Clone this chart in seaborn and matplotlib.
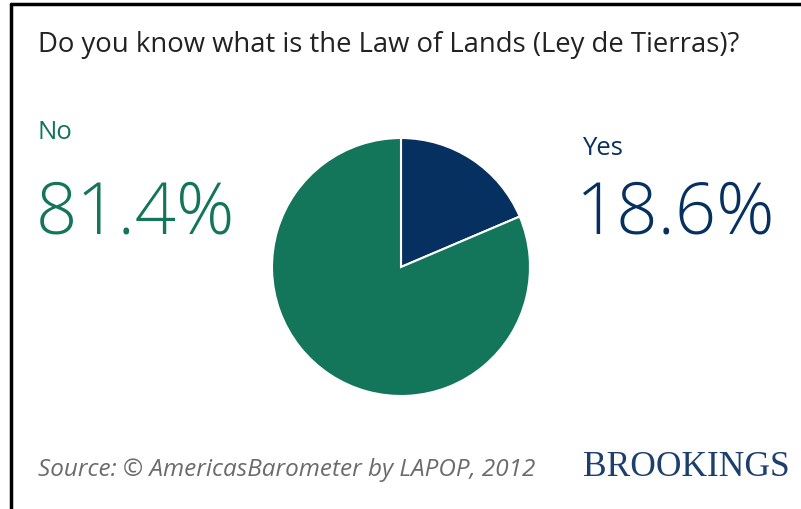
import matplotlib
matplotlib.use("Agg")
import matplotlib.pyplot as plt
import seaborn as sns
from matplotlib.lines import Line2D

categories = ["Yes", "No"]
values = [18.6, 81.4]
colors = ["#06305f", "#137559"]

sns.set_theme(style="white")
plt.rcParams['font.family'] = ['Open Sans', 'DejaVu Sans']

W, H = 801, 510
fig = plt.figure(figsize=(W / 100, H / 100), dpi=100)
fig.patch.set_facecolor("white")

cx, cy, r = 401, 268, 129
ax = fig.add_axes([(cx - r) / W, (H - cy - r) / H, 2 * r / W, 2 * r / H])
ax.pie(values, colors=colors, startangle=90, counterclock=False,
       wedgeprops=dict(edgecolor="white", linewidth=1.5))
ax.set_xlim(-1, 1)
ax.set_ylim(-1, 1)
ax.set_aspect("equal")
ax.axis("off")

# frame lines
fig.add_artist(Line2D([11 / W, 11 / W], [0, 1 - 5 / H], transform=fig.transFigure, color="black", lw=2.5))
fig.add_artist(Line2D([11 / W, 1], [1 - 5 / H, 1 - 5 / H], transform=fig.transFigure, color="black", lw=2.5))

def fx(x):
    return x / W

def fy(y):
    return 1 - y / H

fig.text(fx(38), fy(52), "Do you know what is the Law of Lands (Ley de Tierras)?",
         fontsize=19.8, color="#222222", ha="left", va="baseline")

fig.text(fx(38), fy(139), categories[1], fontsize=18.5, color=colors[1], ha="left", va="baseline")
fig.text(fx(36), fy(234), f"{values[1]:.1f}%", fontsize=52, color=colors[1],
         ha="left", va="baseline", fontweight="light")
fig.text(fx(582), fy(155), categories[0], fontsize=18.5, color=colors[0], ha="left", va="baseline")
fig.text(fx(576), fy(234), f"{values[0]:.1f}%", fontsize=52, color=colors[0],
         ha="left", va="baseline", fontweight="light")

fig.text(fx(38), fy(476), "Source: © AmericasBarometer by LAPOP, 2012", fontsize=17.5,
         color="#6b6b6b", style="italic", ha="left", va="baseline")
fig.text(fx(583), fy(476), "BROOKINGS", fontsize=25.5, color="#1c3f6e",
         family=["Liberation Serif", "DejaVu Serif"], ha="left", va="baseline")

fig.savefig("out.png", dpi=100)
